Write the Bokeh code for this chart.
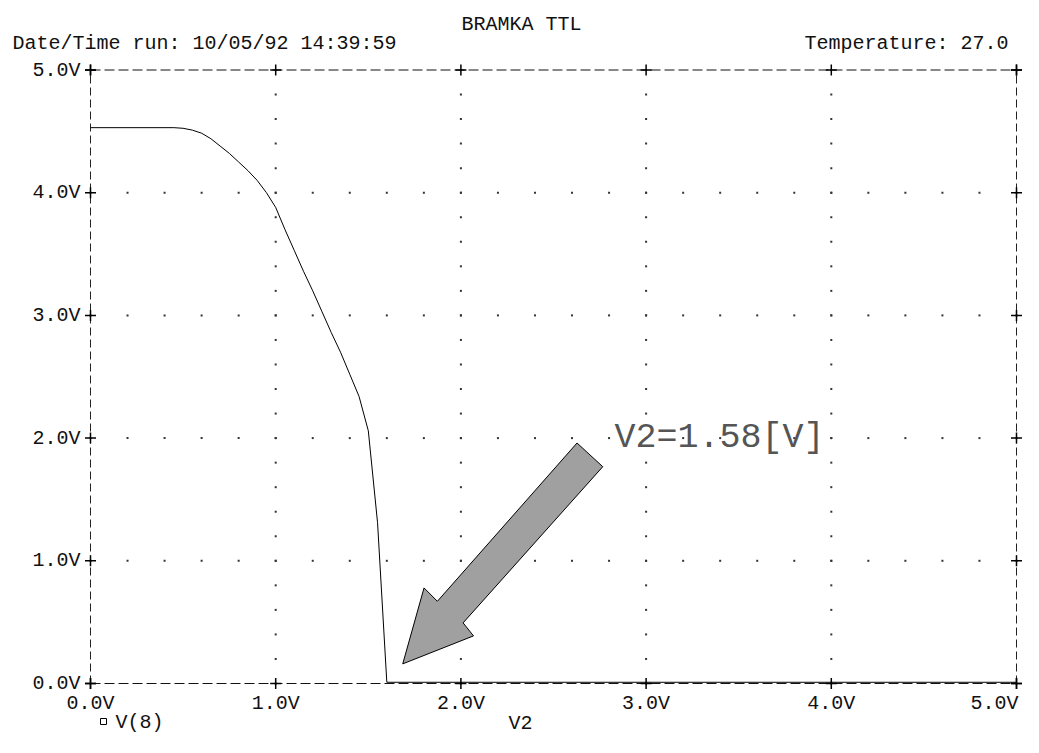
import numpy as np
from bokeh.plotting import figure
from bokeh.models import Range1d, Label
from bokeh.core.properties import value
from bokeh.embed import file_html
from bokeh.resources import INLINE

# ---------------- data ----------------
TITLE = "BRAMKA TTL"
RUN_INFO = "Date/Time run: 10/05/92  14:39:59"
TEMP_INFO = "Temperature:  27.0"
X_TITLE = "V2"
TRACE_NAME = "V(8)"
NOTE = "V2=1.58[V]"

X_TICKS = [0, 1, 2, 3, 4, 5]
X_TICK_LABELS = ["0.0V", "1.0V", "2.0V", "3.0V", "4.0V", "5.0V"]
Y_TICKS = [0, 1, 2, 3, 4, 5]
Y_TICK_LABELS = ["0.0V", "1.0V", "2.0V", "3.0V", "4.0V", "5.0V"]

V2 = [0.0, 0.45, 0.50, 0.55, 0.60, 0.65, 0.70, 0.75, 0.80, 0.85, 0.90, 0.95,
      1.00, 1.05, 1.10, 1.15, 1.20, 1.25, 1.30, 1.35, 1.40, 1.45, 1.50, 1.55,
      1.60, 5.0]
V8 = [4.53, 4.53, 4.525, 4.51, 4.485, 4.44, 4.38, 4.32, 4.25, 4.18, 4.10, 4.00,
      3.88, 3.70, 3.53, 3.36, 3.20, 3.03, 2.86, 2.70, 2.52, 2.34, 2.06, 1.31,
      0.01, 0.01]

ARROW_X = [2.627, 2.766, 2.012, 2.068, 1.686, 1.801, 1.873]
ARROW_Y = [1.960, 1.767, 0.494, 0.388, 0.160, 0.779, 0.670]

# ---------------- layout (canvas pixels) ----------------
W, H = 1023, 737
FONT = "Liberation Mono"
X0_PX, X_SCALE = 90.0, 185.2     # x = 0 at px 90, 185.2 px per volt
Y0_PX, Y_SCALE = 683.0, 122.7    # y = 0 at px 683, 122.7 px per volt


def px2x(px):
    return (px - X0_PX) / X_SCALE


def py2y(py):
    return (Y0_PX - py) / Y_SCALE


p = figure(width=W, height=H,
           x_range=Range1d(px2x(0), px2x(W)), y_range=Range1d(py2y(H), py2y(0)),
           output_backend="svg", toolbar_location=None,
           x_axis_location=None, y_axis_location=None, min_border=0)
p.title.visible = False
p.outline_line_color = None
p.xgrid.visible = False
p.ygrid.visible = False
p.background_fill_color = "white"
p.border_fill_color = "white"

x0, x1 = X_TICKS[0], X_TICKS[-1]
y0, y1 = Y_TICKS[0], Y_TICKS[-1]

# dotted grid: dots every 0.2 V along the inner integer grid lines
steps = np.round(np.arange(0, 5.0001, 0.2), 3)
inner_x = X_TICKS[1:-1]
inner_y = Y_TICKS[1:-1]
gx = [x for x in inner_x for _ in steps] + [s for _ in inner_y for s in steps]
gy = [s for _ in inner_x for s in steps] + [y for y in inner_y for _ in steps]
p.scatter(gx, gy, marker="square", size=2, fill_color="#333333", line_color=None)

# dashed frame
p.multi_line([[x0, x1], [x0, x1]], [[y0, y0], [y1, y1]], line_color="#111111",
             line_width=1, line_dash="10 4")
p.multi_line([[x0, x0], [x1, x1]], [[y0, y1], [y0, y1]], line_color="#222222",
             line_width=1, line_dash="8 4")

# "+" tick marks on all four borders
cx = list(X_TICKS) * 2 + [x0] * len(Y_TICKS) + [x1] * len(Y_TICKS)
cy = [y0] * len(X_TICKS) + [y1] * len(X_TICKS) + list(Y_TICKS) * 2
p.scatter(cx, cy, marker="cross", size=11, line_color="black", line_width=1.5)

# tick labels (the last x label is right-aligned to its tick, as in the source)
tick_style = dict(text_baseline="middle", text_font=value(FONT),
                  text_font_size="20px", text_color="#111111")
p.text(x=X_TICKS[:-1], y=[y0] * (len(X_TICKS) - 1), text=X_TICK_LABELS[:-1],
       text_align="center", y_offset=20, **tick_style)
p.text(x=X_TICKS[-1:], y=[y0], text=X_TICK_LABELS[-1:],
       text_align="right", y_offset=20, x_offset=2, **tick_style)
p.text(x=[x0] * len(Y_TICKS), y=Y_TICKS, text=Y_TICK_LABELS, text_align="right",
       x_offset=-10, **tick_style)

# trace
p.line(V2, V8, line_color="black", line_width=1)

# arrow annotation
p.patch(ARROW_X, ARROW_Y, fill_color="#a0a0a0", line_color="black", line_width=1)

# legend key: hollow square + trace name
p.scatter([px2x(103)], [py2y(721)], marker="square", size=6, fill_color=None,
          line_color="black", line_width=1)


def add_text(px, py, text, align, size="20px", color="#111111"):
    p.add_layout(Label(x=px2x(px), y=py2y(py), text=text, text_align=align,
                       text_baseline="middle", text_font=FONT,
                       text_font_size=size, text_color=color))


add_text(115, 722, TRACE_NAME, "left")
add_text(521, 24, TITLE, "center")
add_text(12, 43, RUN_INFO, "left")
add_text(1020, 43, TEMP_INFO, "right")
add_text(520, 723, X_TITLE, "center")
add_text(614, 437, NOTE, "left", size="35px", color="#555555")

open("out.html", "w").write(file_html(p, INLINE))
